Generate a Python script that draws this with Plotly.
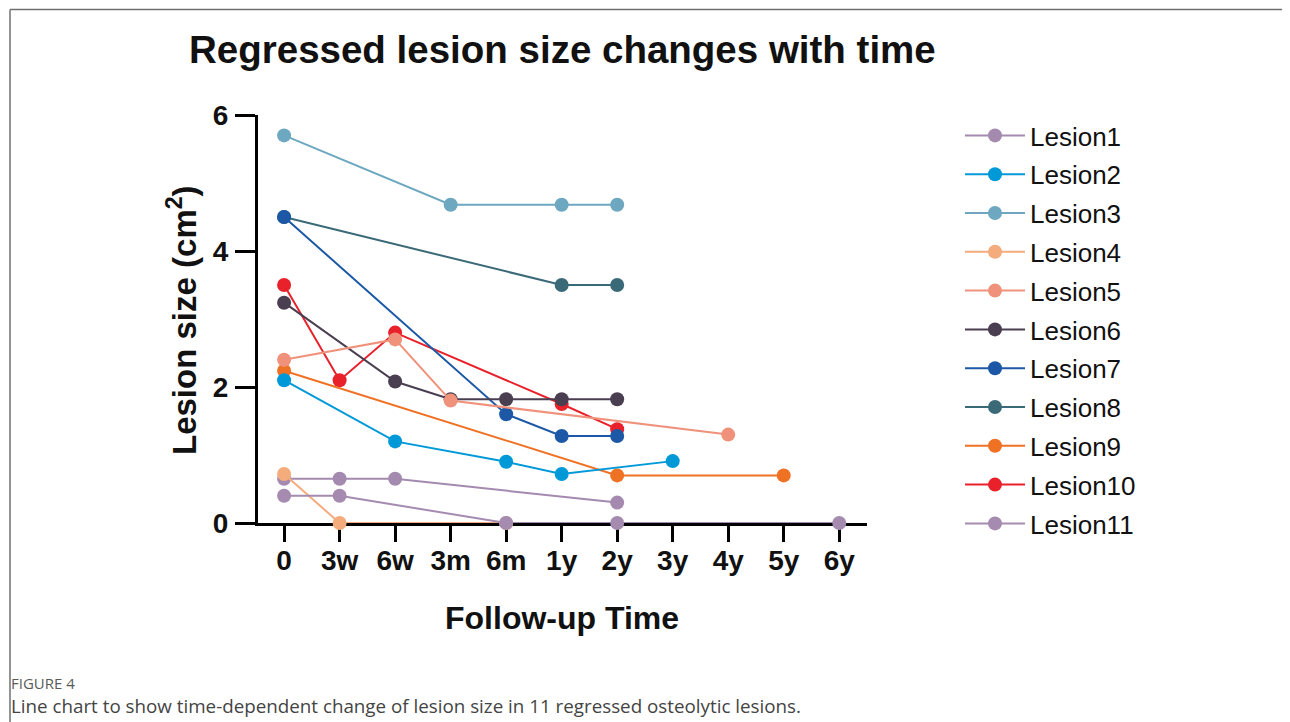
import plotly.graph_objects as go

# ---------------- data ----------------
categories = ["0", "3w", "6w", "3m", "6m", "1y", "2y", "3y", "4y", "5y", "6y"]
y_ticks = [0, 2, 4, 6]

lesion_names = ["Lesion1", "Lesion2", "Lesion3", "Lesion4", "Lesion5", "Lesion6",
                "Lesion7", "Lesion8", "Lesion9", "Lesion10", "Lesion11"]

lesion1_x = ["0", "3w", "6w", "2y"]
lesion1_y = [0.65, 0.65, 0.65, 0.30]
lesion2_x = ["0", "6w", "6m", "1y", "3y"]
lesion2_y = [2.10, 1.20, 0.90, 0.72, 0.91]
lesion3_x = ["0", "3m", "1y", "2y"]
lesion3_y = [5.70, 4.68, 4.68, 4.68]
lesion4_x = ["0", "3w", "6m"]
lesion4_y = [0.72, 0.0, 0.0]
lesion5_x = ["0", "6w", "3m", "4y"]
lesion5_y = [2.40, 2.70, 1.80, 1.30]
lesion6_x = ["0", "6w", "3m", "6m", "1y", "2y"]
lesion6_y = [3.24, 2.08, 1.82, 1.82, 1.82, 1.82]
lesion7_x = ["0", "6m", "1y", "2y"]
lesion7_y = [4.50, 1.60, 1.28, 1.28]
lesion8_x = ["0", "1y", "2y"]
lesion8_y = [4.50, 3.50, 3.50]
lesion9_x = ["0", "2y", "5y"]
lesion9_y = [2.24, 0.70, 0.70]
lesion10_x = ["0", "3w", "6w", "1y", "2y"]
lesion10_y = [3.50, 2.10, 2.80, 1.75, 1.38]
lesion11_x = ["0", "3w", "6m", "2y", "6y"]
lesion11_y = [0.40, 0.40, 0.0, 0.0, 0.0]

lesion_colors = ["#A48AAF", "#0099D8", "#6DA7C0", "#F5AC7D", "#F0927B", "#4A3E51",
                 "#1C58A5", "#3A6A78", "#EF7124", "#E8212B", "#A58BB0"]

title_text = "Regressed lesion size changes with time"
x_title = "Follow-up Time"
y_title = "Lesion size (cm<sup>2</sup>)"
caption_label = "FIGURE 4"
caption_text = "Line chart to show time-dependent change of lesion size in 11 regressed osteolytic lesions."

series_x = [lesion1_x, lesion2_x, lesion3_x, lesion4_x, lesion5_x, lesion6_x,
            lesion7_x, lesion8_x, lesion9_x, lesion10_x, lesion11_x]
series_y = [lesion1_y, lesion2_y, lesion3_y, lesion4_y, lesion5_y, lesion6_y,
            lesion7_y, lesion8_y, lesion9_y, lesion10_y, lesion11_y]

# ---------------- layout geometry (pixels, page coordinates) ----------------
OFF = 8                      # default page body margin
W, H = 1290 - OFF, 722 - OFF
PL, PR, PT, PB = 258, 867, 115, 523   # plot area in page pixels


def px(x):
    return (x - PL) / (PR - PL)


def py(y):
    return (PB - y) / (PB - PT)


FONT = "Arial, 'Liberation Sans', sans-serif"

fig = go.Figure()
draw_order = [9, 8, 7, 6, 5, 4, 0, 3, 2, 1, 10]
for i in draw_order:
    fig.add_trace(go.Scatter(
        x=series_x[i], y=series_y[i], name=lesion_names[i],
        mode="lines+markers",
        line=dict(color=lesion_colors[i], width=2),
        marker=dict(color=lesion_colors[i], size=14),
        cliponaxis=False,
        legendrank=i + 1,
        legendgroup=lesion_names[i],
    ))

fig.update_layout(
    width=W, height=H,
    margin=dict(l=PL - OFF, r=W - (PR - OFF), t=PT - OFF, b=H - (PB - OFF), pad=0),
    paper_bgcolor="white", plot_bgcolor="white",
    showlegend=True,
    legend=dict(
        xref="container", yref="container",
        x=(960 - OFF) / W, y=1 - (112 - OFF) / H, xanchor="left", yanchor="top",
        font=dict(family=FONT, size=26, color="#111"),
        itemwidth=60, bgcolor="rgba(0,0,0,0)",
        tracegroupgap=2, traceorder="grouped",
        maxheight=1.0,
    ),
    xaxis=dict(
        type="category", categoryorder="array", categoryarray=categories,
        range=[-0.47, 10.5],
        showline=True, linewidth=3, linecolor="black",
        ticks="outside", ticklen=16, tickwidth=3, tickcolor="black",
        tickfont=dict(family=FONT, size=28, color="#111", weight="bold"),
        showgrid=False, zeroline=False, layer="below traces",
        ticklabelstandoff=-6,
    ),
    yaxis=dict(
        range=[0, 6], tickvals=y_ticks,
        showline=True, linewidth=3, linecolor="black",
        ticks="outside", ticklen=20, tickwidth=3, tickcolor="black",
        tickfont=dict(family=FONT, size=28, color="#111", weight="bold"),
        showgrid=False, zeroline=False, layer="below traces",
        ticklabelstandoff=1,
    ),
    annotations=[
        dict(text="<b>" + title_text + "</b>", xref="paper", yref="paper",
             x=px(562), y=py(50), xanchor="center", yanchor="middle",
             showarrow=False, font=dict(family=FONT, size=38.5, color="#111")),
        dict(text="<b>" + x_title + "</b>", xref="paper", yref="paper",
             x=px(562), y=py(618), xanchor="center", yanchor="middle",
             showarrow=False, font=dict(family=FONT, size=32, color="#111")),
        dict(text="<b>" + y_title + "</b>", xref="paper", yref="paper",
             x=px(182), y=py(320), xanchor="center", yanchor="middle",
             textangle=-90,
             showarrow=False, font=dict(family=FONT, size=33, color="#111")),
        dict(text=caption_label, xref="paper", yref="paper",
             x=px(9), y=py(683), xanchor="left", yanchor="middle",
             showarrow=False, font=dict(family="'Open Sans', sans-serif", size=15, color="#5a5a5a")),
        dict(text=caption_text, xref="paper", yref="paper",
             x=px(9), y=py(706), xanchor="left", yanchor="middle",
             showarrow=False, font=dict(family="'Open Sans', sans-serif", size=18.8, color="#444")),
    ],
    shapes=[
        dict(type="line", xref="paper", yref="paper", x0=px(10), x1=px(1292), y0=py(9.5), y1=py(9.5),
             line=dict(color="#707070", width=1.5)),
        dict(type="line", xref="paper", yref="paper", x0=px(10), x1=px(10), y0=py(9.5), y1=py(724),
             line=dict(color="#707070", width=1.5)),
    ],
)

fig.write_html("out.html")
